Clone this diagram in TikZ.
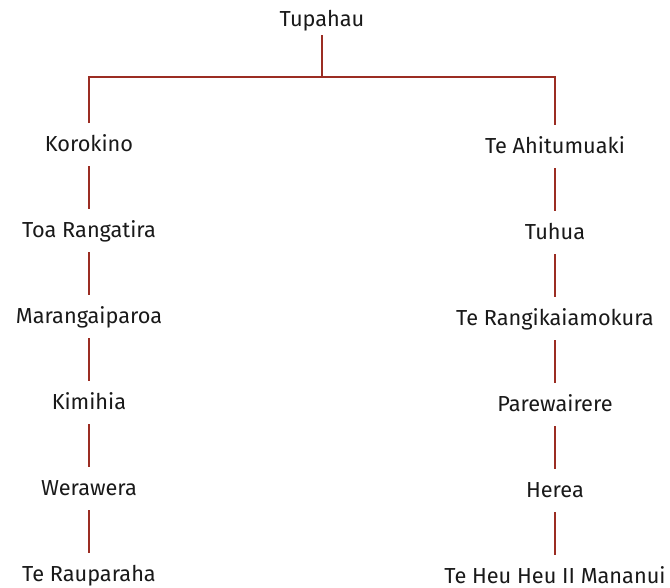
\documentclass[tikz,border=0pt]{standalone}
\usepackage{fontspec}
\setmainfont{Fira Sans}
\definecolor{linkred}{RGB}{155,45,35}
\begin{document}
\begin{tikzpicture}[x=0.75pt,y=-0.75pt,
  person/.style={inner sep=0pt,outer sep=0pt,anchor=base,text height=21pt,text depth=11.25pt,font=\fontsize{16.3pt}{19pt}\selectfont,text=black!90},
  root/.style={person,text depth=6.75pt},
  link/.style={draw=linkred,line width=1.6pt}]
\useasboundingbox (0,0) rectangle (670,587);
\node[root] (t) at (322,26) {Tupahau};
\coordinate (j) at (322,77);
\node[person] (l1) at (89,151) {Korokino};
\node[person] (l2) at (89,237) {Toa Rangatira};
\node[person] (l3) at (89,323) {Marangaiparoa};
\node[person] (l4) at (89,409) {Kimihia};
\node[person] (l5) at (89,495) {Werawera};
\node[person] (l6) at (89,581) {Te Rauparaha};
\node[person] (r1) at (555,153) {Te Ahitumuaki};
\node[person] (r2) at (555,239) {Tuhua};
\node[person] (r3) at (555,325) {Te Rangikaiamokura};
\node[person] (r4) at (555,411) {Parewairere};
\node[person] (r5) at (555,497) {Herea};
\node[person] (r6) at (555,583) {Te Heu Heu II Mananui};
\draw[link] (t.south) -- (j);
\draw[link] (l1.north) |- (j) -| (r1.north);
\foreach \a/\b in {l1/l2,l2/l3,l3/l4,l4/l5,l5/l6,r1/r2,r2/r3,r3/r4,r4/r5,r5/r6}
  \draw[link] (\a.south) -- (\b.north);
\end{tikzpicture}
\end{document}
